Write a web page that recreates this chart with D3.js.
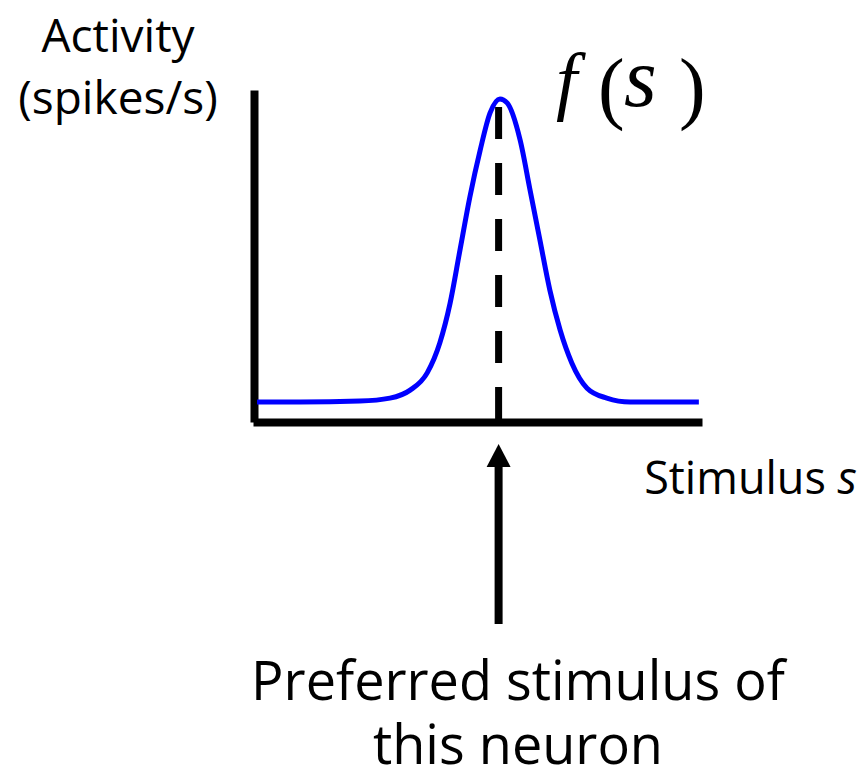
<!DOCTYPE html>
<html>
<head>
<meta charset="utf-8">
<script src="https://cdn.jsdelivr.net/npm/d3@7"></script>
<style>
  html, body { margin: 0; padding: 0; background: #fff; }
  svg { display: block; }
  .label { font-family: "Open Sans", sans-serif; fill: #000; }
  .math { font-family: "Liberation Serif", "DejaVu Serif", serif; fill: #000; }
</style>
</head>
<body>
<svg id="chart" width="863" height="777"></svg>
<script>
// tuning curve (stimulus 0..100, activity 0..100)
const stimulus = [0.9, 10.5, 23.8, 30.5, 35.0, 38.8, 41.6, 43.9, 46.1, 48.3, 50.6, 52.8,
  55.0, 56.6, 59.5, 61.7, 63.9, 66.1, 68.4, 71.0, 74.4, 78.8, 84.0, 99.3];
const activity = [6.0, 6.0, 6.3, 7.2, 9.6, 14.8, 23.8, 35.8, 51.8, 67.8, 81.9, 93.1,
  97.3, 96.1, 84.9, 69.9, 54.8, 39.8, 27.7, 17.8, 10.2, 7.2, 6.0, 6.0];
const preferredStimulus = [54.7];
const dashTop = [94.9];
const yLabel = ["Activity", "(spikes/s)"];
const xLabel = ["Stimulus ", "s"];
const note = ["Preferred stimulus of", "this neuron"];

const data = stimulus.map((s, i) => ({ s, a: activity[i] }));

const svg = d3.select("#chart");
const x = d3.scaleLinear().domain([0, 100]).range([253, 702]);
const y = d3.scaleLinear().domain([0, 100]).range([422, 90]);

// axes: only the thick domain lines
svg.append("g")
  .attr("transform", `translate(0,${y(0)})`)
  .call(d3.axisBottom(x).ticks(0).tickSizeOuter(0))
  .select(".domain")
  .attr("stroke", "#000")
  .attr("stroke-width", 8);

svg.append("g")
  .attr("transform", `translate(${x(0) + 1},0)`)
  .call(d3.axisLeft(y).ticks(0).tickSizeOuter(0))
  .select(".domain")
  .attr("stroke", "#000")
  .attr("stroke-width", 8);

// preferred stimulus dashed line
const px = x(preferredStimulus[0]);
svg.append("line")
  .attr("x1", px).attr("x2", px)
  .attr("y1", y(dashTop[0])).attr("y2", y(0))
  .attr("stroke", "#000")
  .attr("stroke-width", 7)
  .attr("stroke-dasharray", "32,24");

// tuning curve
const line = d3.line()
  .x((d) => x(d.s))
  .y((d) => y(d.a))
  .curve(d3.curveMonotoneX);

svg.append("path")
  .datum(data)
  .attr("d", line)
  .attr("fill", "none")
  .attr("stroke", "#0000ff")
  .attr("stroke-width", 5);

// arrow up to the preferred stimulus
svg.append("line")
  .attr("x1", px).attr("x2", px)
  .attr("y1", 624).attr("y2", 465)
  .attr("stroke", "#000")
  .attr("stroke-width", 8);
svg.append("path")
  .attr("d", `M${px},444 L${px - 12},467 L${px + 12},467 Z`)
  .attr("fill", "#000");

// labels
svg.append("text").attr("class", "label")
  .attr("x", 118).attr("y", 52)
  .attr("text-anchor", "middle")
  .attr("font-size", 46)
  .text(yLabel[0]);
svg.append("text").attr("class", "label")
  .attr("x", 118).attr("y", 114)
  .attr("text-anchor", "middle")
  .attr("font-size", 46)
  .text(yLabel[1]);

const xl = svg.append("text").attr("class", "label")
  .attr("x", 857).attr("y", 494)
  .attr("text-anchor", "end")
  .attr("font-size", 45);
xl.append("tspan").text(xLabel[0]);
xl.append("tspan").attr("font-style", "italic").text(xLabel[1]);

svg.append("text").attr("class", "label")
  .attr("x", 518).attr("y", 700)
  .attr("text-anchor", "middle")
  .attr("font-size", 54)
  .text(note[0]);
svg.append("text").attr("class", "label")
  .attr("x", 518).attr("y", 764)
  .attr("text-anchor", "middle")
  .attr("font-size", 54)
  .text(note[1]);

// f(s)
svg.append("text").attr("class", "math")
  .attr("x", 556).attr("y", 106)
  .attr("font-size", 76)
  .attr("font-style", "italic")
  .text("f");
svg.append("text").attr("class", "math")
  .attr("x", 598).attr("y", 114)
  .attr("font-size", 80)
  .text("(");
svg.append("text").attr("class", "math")
  .attr("x", 624).attr("y", 106)
  .attr("font-size", 84)
  .attr("font-style", "italic")
  .text("s");
svg.append("text").attr("class", "math")
  .attr("x", 679).attr("y", 114)
  .attr("font-size", 80)
  .text(")");
</script>
</body>
</html>
